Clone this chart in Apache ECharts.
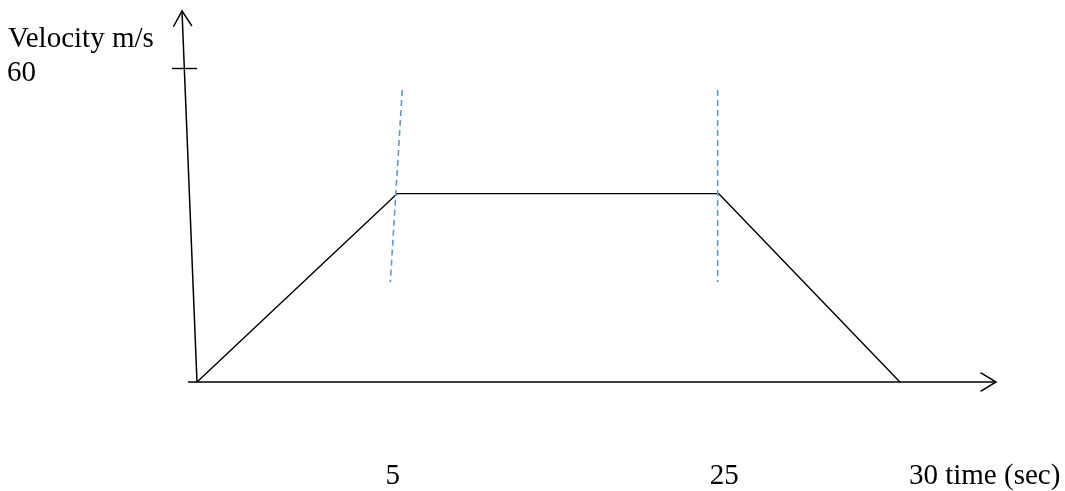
<!DOCTYPE html>
<html><head><meta charset="utf-8">
<script src="https://cdn.jsdelivr.net/npm/echarts@6/dist/echarts.min.js"></script>
<style>html,body{margin:0;padding:0;background:#fff}#c{width:1065px;height:491px}</style>
</head><body><div id="c"></div>
<script>
// Hand-sketched velocity-time diagram (not to scale).
// x values are positions along the sketched time axis, where the "30" mark sits at 30.
const profileX = [0, 8.55, 22.26, 30];
const profileV = [0, 36, 36, 0];
const tickLabelsX = ['5', '25', '30 time (sec)'];
const tickPosX = [8.35, 22.5, 30];
const tickValuesY = [60];
const guideTop = [[8.76, 55.8], [22.22, 55.8]];
const guideBottom = [[8.25, 19.05], [22.22, 19.05]];
const xAxisEnds = [-0.38, 0, 34.1, 0];
const yAxisEnds = [0, 0, -0.64, 70.9];
const yTitle = 'Velocity m/s';

const FONT = "'Liberation Serif', 'Times New Roman', serif";
const chart = echarts.init(document.getElementById('c'), null, {renderer: 'canvas'});

const axisArrows = {
  type: 'custom', coordinateSystem: 'cartesian2d', silent: true, clip: false,
  data: [xAxisEnds, yAxisEnds],
  renderItem(params, api) {
    const a = api.coord([api.value(0), api.value(1)]);
    const b = api.coord([api.value(2), api.value(3)]);
    const ang = Math.atan2(b[1] - a[1], b[0] - a[0]);
    const L = 18, h = 31 * Math.PI / 180;
    const p1 = [b[0] - L * Math.cos(ang - h), b[1] - L * Math.sin(ang - h)];
    const p2 = [b[0] - L * Math.cos(ang + h), b[1] - L * Math.sin(ang + h)];
    const st = {stroke: '#000', lineWidth: 1.5, fill: null};
    return {type: 'group', children: [
      {type: 'line', shape: {x1: a[0], y1: a[1], x2: b[0], y2: b[1]}, style: st},
      {type: 'polyline', shape: {points: [p1, b, p2]}, style: st}
    ]};
  }
};

const guides = guideTop.map((t, i) => ({
  type: 'line', silent: true, clip: false, symbol: 'none',
  data: [t, guideBottom[i]],
  lineStyle: {color: '#5B9BD5', width: 1.6, type: [6, 4]}
}));

const option = {
  animation: false,
  backgroundColor: '#fff',
  title: {
    text: yTitle, left: 8, top: 25, padding: 0,
    textStyle: {fontFamily: FONT, fontSize: 29, fontWeight: 'normal', color: '#000'}
  },
  grid: {left: 197, right: 69, top: 68, bottom: 109},
  xAxis: {
    type: 'value', min: 0, max: 34.1,
    axisLine: {show: false}, axisTick: {show: false},
    axisLabel: {show: false}, splitLine: {show: false}
  },
  yAxis: {
    type: 'value', min: 0, max: 60,
    axisLine: {show: false},
    axisTick: {show: true, customValues: tickValuesY, length: 25, lineStyle: {color: '#000', width: 1.4}},
    axisLabel: {
      show: true, customValues: tickValuesY, margin: 161,
      formatter: v => '{a|' + v + '}',
      rich: {a: {fontFamily: FONT, fontSize: 29, color: '#000', padding: [11, 0, 0, 0]}}
    },
    splitLine: {show: false}
  },
  series: [
    axisArrows,
    {
      type: 'line', silent: true, clip: false, symbol: 'none',
      data: profileX.map((x, i) => [x, profileV[i]]),
      lineStyle: {color: '#000', width: 1.4}
    },
    ...guides,
    {
      type: 'scatter', silent: true, symbolSize: 0,
      itemStyle: {opacity: 1},
      label: {color: '#000'},
      data: tickPosX.map((x, i) => ({
        value: [x, 0],
        label: {
          show: true, position: 'bottom', distance: 80,
          formatter: tickLabelsX[i],
          align: i === tickPosX.length - 1 ? 'left' : 'center',
          offset: i === tickPosX.length - 1 ? [9, 0] : [0, 0],
          fontFamily: FONT, fontSize: 29, color: '#000', opacity: 1
        }
      }))
    }
  ]
};
chart.setOption(option);
</script>
</body></html>
